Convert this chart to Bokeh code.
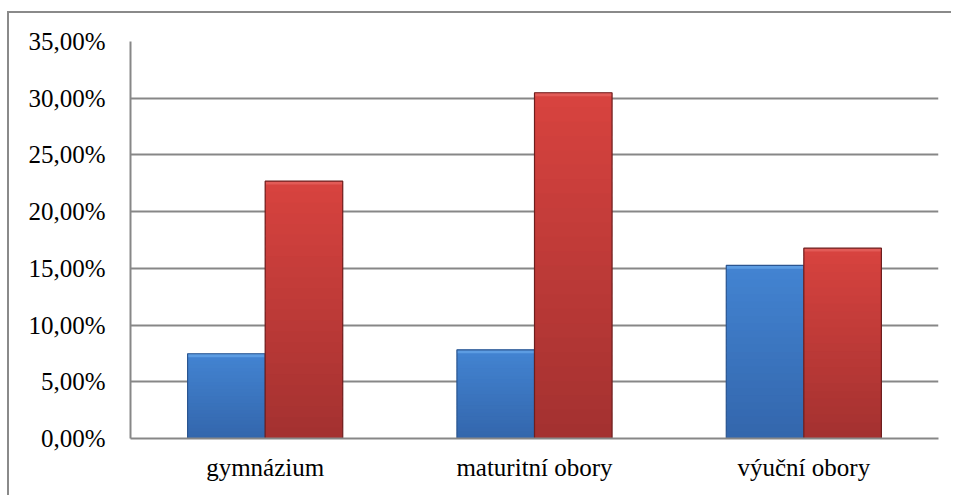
from bokeh.plotting import figure
from bokeh.models import ColumnDataSource, FactorRange, Range1d, FixedTicker, CustomJSTickFormatter
from bokeh.transform import dodge
from bokeh.embed import file_html
from bokeh.resources import INLINE

categories = ["gymnázium", "maturitní obory", "výuční obory"]
series_blue = [7.47, 7.82, 15.26]
series_red = [22.69, 30.48, 16.78]
y_ticks = [0, 5, 10, 15, 20, 25, 30, 35]

# gradient colour stops (bottom -> top)
blue_grad = ("#3366ac", "#4384d2")
red_grad = ("#a33130", "#d8433f")
N_SLICES = 24


def mix(c1, c2, t):
    a = [int(c1[i:i + 2], 16) for i in (1, 3, 5)]
    b = [int(c2[i:i + 2], 16) for i in (1, 3, 5)]
    return "#%02x%02x%02x" % tuple(round(a[k] + (b[k] - a[k]) * t) for k in range(3))


def slices(values, grad):
    cat, bot, top, col = [], [], [], []
    for c, v in zip(categories, values):
        for i in range(N_SLICES):
            cat.append(c)
            bot.append(v * i / N_SLICES)
            top.append(min(v, v * (i + 1.8) / N_SLICES))
            col.append(mix(grad[0], grad[1], (i + 0.5) / N_SLICES))
    return ColumnDataSource(dict(cat=cat, bottom=bot, top=top, color=col))


src = ColumnDataSource(dict(cat=categories, blue=series_blue, red=series_red,
                            blue_hl=[v - 0.3 for v in series_blue],
                            red_hl=[v - 0.3 for v in series_red]))

p = figure(x_range=FactorRange(*categories, range_padding=0), y_range=Range1d(0, 35),
           width=944, height=484, output_backend="svg", toolbar_location=None,
           min_border_left=121, min_border_right=15, min_border_top=28, min_border_bottom=59)
p.styles = {"border-top": "2px solid #8a8a8a", "border-left": "2px solid #8a8a8a",
            "margin-top": "11px", "margin-left": "7px"}

bw = 0.288
for vals, grad, off, edge, hl, key in ((series_blue, blue_grad, -bw / 2, "#2a5590", "#5c9ce2", "blue"),
                                       (series_red, red_grad, bw / 2, "#6e1e1e", "#e25b57", "red")):
    s = slices(vals, grad)
    p.vbar(x=dodge("cat", off, range=p.x_range), bottom="bottom", top="top", width=bw,
           source=s, fill_color="color", line_color=None)
    p.vbar(x=dodge("cat", off, range=p.x_range), bottom=key + "_hl", top=key, width=bw,
           source=src, fill_color=hl, line_color=None)
    p.vbar(x=dodge("cat", off, range=p.x_range), top=key, width=bw, source=src,
           fill_color=None, line_color=edge, line_width=1.2)

p.outline_line_color = None
p.background_fill_color = "white"
p.border_fill_color = "white"

p.ygrid.grid_line_color = "#878787"
p.ygrid.grid_line_width = 2
p.xgrid.grid_line_color = None
p.ygrid.level = "underlay"

p.yaxis.ticker = FixedTicker(ticks=y_ticks)
p.yaxis.formatter = CustomJSTickFormatter(code="return tick.toFixed(2).replace('.', ',') + '%';")
p.yaxis.axis_line_color = "#878787"
p.yaxis.axis_line_width = 2
p.yaxis.major_tick_line_color = None
p.yaxis.minor_tick_line_color = None
p.yaxis.major_tick_out = 0
p.yaxis.major_label_standoff = 25

p.xaxis.axis_line_color = "#878787"
p.xaxis.axis_line_width = 2
p.xaxis.major_tick_line_color = None
p.xaxis.minor_tick_line_color = None
p.xaxis.major_tick_out = 0
p.xaxis.major_label_standoff = 15

for ax in (p.xaxis, p.yaxis):
    ax.major_label_text_font = "Liberation Serif"
    ax.major_label_text_font_size = "25px"
    ax.major_label_text_color = "black"

open("out.html", "w").write(file_html(p, INLINE))
